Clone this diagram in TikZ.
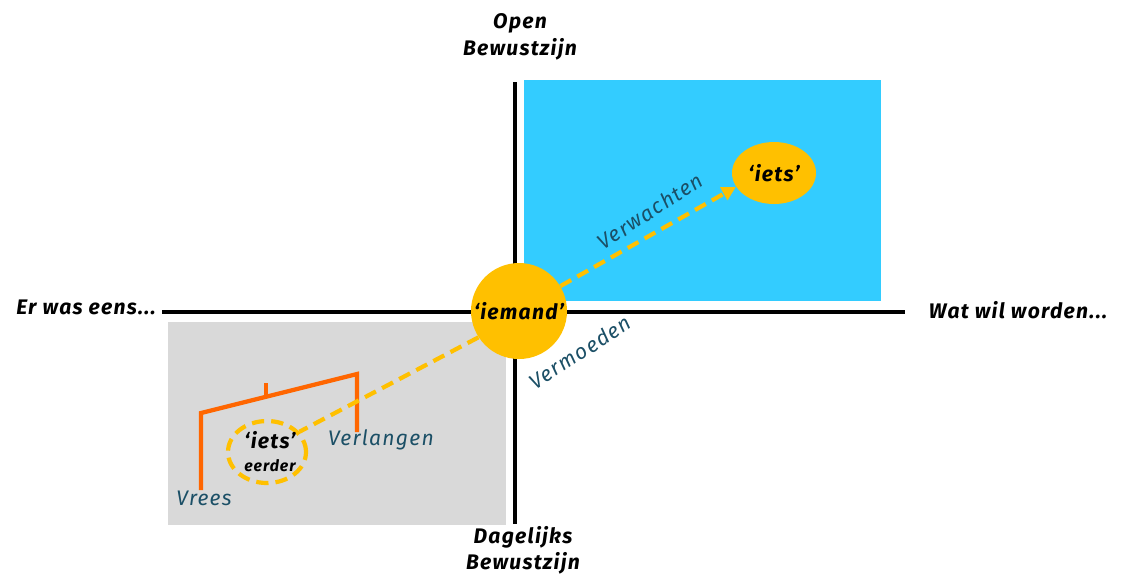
\documentclass[tikz,border=0pt]{standalone}
\usepackage{fontspec}
\setmainfont{Fira Sans}[LetterSpace=6]
\usetikzlibrary{arrows.meta,shapes.geometric}
\definecolor{skyb}{HTML}{33CCFF}
\definecolor{grayb}{HTML}{D9D9D9}
\definecolor{gold}{HTML}{FFC000}
\definecolor{orng}{HTML}{FF6600}
\definecolor{teal}{HTML}{1B4F66}
\begin{document}
\begin{tikzpicture}[x=0.02cm,y=-0.02cm,
  axis/.style={draw=black, line width=2.8pt},
  lbl/.style={font=\bfseries\itshape\fontsize{12}{15}\selectfont, text=black, align=center},
  tlbl/.style={font=\itshape\fontsize{12}{14}\selectfont, text=teal},
  goldfill/.style={fill=gold, draw=none},
  gdash/.style={draw=gold, line width=2.4pt, dash pattern=on 7pt off 4pt},
  orline/.style={draw=orng, line width=2.4pt}]
\useasboundingbox (0,0) rectangle (1121,576);
\fill[skyb] (524,80) rectangle (881,301);
\fill[grayb] (168,322) rectangle (506,525);
\coordinate (vt) at (515,82);
\coordinate (vb) at (515,524);
\coordinate (hl) at (162,312);
\coordinate (hr) at (905,312);
\draw[axis] (vt) -- (vb);
\draw[axis] (hl) -- (hr);
% orange structure
\coordinate (o1) at (201,490);
\coordinate (o2) at (201,413);
\coordinate (o3) at (357,374);
\coordinate (o4) at (357,432);
\coordinate (t1) at (266,383);
\coordinate (t2) at (266,397);
\draw[orline] (o1) -- (o2) -- (o3) -- (o4);
\draw[orline] (t1) -- (t2);
% nodes
\node[goldfill, circle, minimum size=96*0.02cm, inner sep=0pt, lbl] (iemand) at (519,311) {‘iemand’};
\node[goldfill, ellipse, minimum width=84*0.02cm, minimum height=62*0.02cm, inner sep=0pt, lbl] (iets) at (774,173) {‘iets’};
\node[ellipse, gdash, minimum width=78*0.02cm, minimum height=62*0.02cm, inner sep=0pt] (ietsold) at (267,452) {};
\node[lbl] (ietsolt) at (270,440) {‘iets’};
\node[lbl, font=\bfseries\itshape\fontsize{9}{10}\selectfont] (eerder) at (270,466) {eerder};
% connectors
\draw[gdash, -{Triangle[length=8pt,width=8pt]}] (iemand.31) -- (iets.200);
\draw[gdash] (iemand.213) -- (ietsold.32);
% labels
\node[tlbl, rotate=33] (verw) at (650,211) {Verwachten};
\node[tlbl, rotate=33] (verm) at (580,352) {Vermoeden};
\node[tlbl] (vrees) at (204,498) {Vrees};
\node[tlbl] (verl) at (381,440) {Verlangen};
\node[lbl] (er) at (86,307) {Er was eens...};
\node[lbl] (wat) at (1018,310) {Wat wil worden...};
\node[lbl] (open) at (520,37) {Open\\Bewustzijn};
\node[lbl] (dag) at (523,550) {Dagelijks\\Bewustzijn};
\end{tikzpicture}
\end{document}
